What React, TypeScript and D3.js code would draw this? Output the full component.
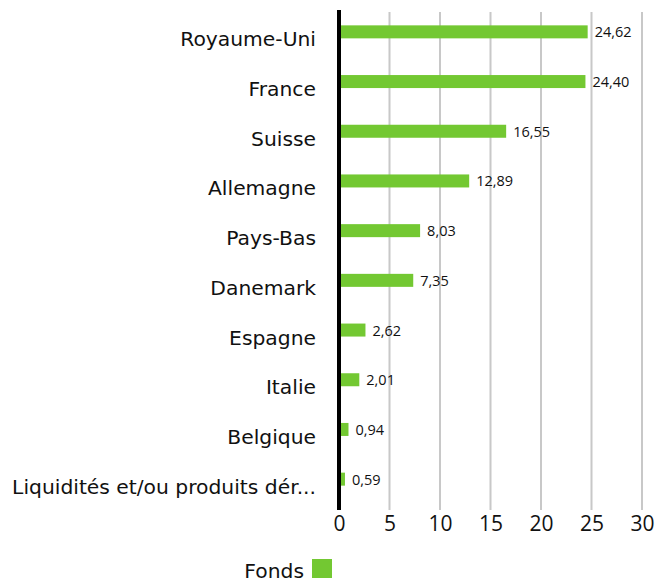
import React, { useEffect, useRef } from "react";
import * as d3 from "d3";

// pays / valeurs (%)
const categories = [
  "Royaume-Uni",
  "France",
  "Suisse",
  "Allemagne",
  "Pays-Bas",
  "Danemark",
  "Espagne",
  "Italie",
  "Belgique",
  "Liquidités et/ou produits dér...",
];
const values = [24.62, 24.4, 16.55, 12.89, 8.03, 7.35, 2.62, 2.01, 0.94, 0.59];
const ticks = [0, 5, 10, 15, 20, 25, 30];
const seriesName = "Fonds";

const FONT = "'Open Sans', 'Noto Sans', sans-serif";
const LABEL_FONT = "'DejaVu Sans', sans-serif";
const GREEN = "#73c832";

const App = () => {
  const svgRef = useRef<SVGSVGElement>(null);

  useEffect(() => {
    const svg = d3.select(svgRef.current);
    svg.selectAll("*").remove();

    const margin = { top: 7, left: 339 };
    const plotH = 497;

    const x = d3.scaleLinear().domain([0, 30]).range([0, 303]);
    const y = d3.scaleBand().domain(categories).range([0, plotH]).paddingInner(0);

    const g = svg.append("g").attr("transform", `translate(${margin.left},${margin.top})`);

    // grille
    g.selectAll("line.grid")
      .data(ticks.slice(1))
      .join("line")
      .attr("class", "grid")
      .attr("x1", (d) => x(d))
      .attr("x2", (d) => x(d))
      .attr("y1", 5)
      .attr("y2", 503)
      .attr("stroke", "#c8c8c8")
      .attr("stroke-width", 2);

    // barres
    const barH = 13;
    g.selectAll("rect.bar")
      .data(values)
      .join("rect")
      .attr("class", "bar")
      .attr("x", 0)
      .attr("y", (d, i) => y(categories[i])! + y.bandwidth() / 2 - barH / 2)
      .attr("width", (d) => x(d))
      .attr("height", barH)
      .attr("fill", GREEN);

    // valeurs
    g.selectAll("text.val")
      .data(values)
      .join("text")
      .attr("class", "val")
      .attr("x", (d) => x(d) + 7)
      .attr("y", (d, i) => y(categories[i])! + y.bandwidth() / 2 + 5.5)
      .attr("font-family", FONT)
      .attr("font-size", 14.5)
      .attr("fill", "#111")
      .text((d) => d.toFixed(2).replace(".", ","));

    // catégories
    g.selectAll("text.cat")
      .data(categories)
      .join("text")
      .attr("class", "cat")
      .attr("x", -23)
      .attr("y", (d) => y(d)! + y.bandwidth() / 2 + 14.5)
      .attr("text-anchor", "end")
      .attr("font-family", LABEL_FONT)
      .attr("font-size", 20.3)
      .attr("fill", "#111")
      .text((d) => d);

    // axe vertical
    g.append("line")
      .attr("x1", 0)
      .attr("x2", 0)
      .attr("y1", 3)
      .attr("y2", 503)
      .attr("stroke", "#000")
      .attr("stroke-width", 4);

    // axe x
    const xAxis = d3.axisBottom(x).tickValues(ticks).tickSize(0).tickPadding(0);
    const ax = g.append("g").attr("transform", `translate(0,${503})`).call(xAxis);
    ax.select(".domain").remove();
    ax.selectAll("text")
      .attr("y", 21)
      .attr("dy", null)
      .attr("font-family", FONT)
      .attr("font-size", 21)
      .attr("fill", "#111");

    // légende
    const leg = svg.append("g").attr("transform", `translate(0,559)`);
    leg.append("text")
      .attr("x", 304)
      .attr("y", 18.5)
      .attr("text-anchor", "end")
      .attr("font-family", LABEL_FONT)
      .attr("font-size", 20.3)
      .attr("fill", "#111")
      .text(seriesName);
    leg.append("rect")
      .attr("x", 312)
      .attr("y", 0)
      .attr("width", 20)
      .attr("height", 20)
      .attr("fill", GREEN);
  }, []);

  return (
    <svg
      ref={svgRef}
      width={657}
      height={578}
      style={{ position: "absolute", left: 0, top: 0, background: "#fff" }}
    ></svg>
  );
};

export default App;
